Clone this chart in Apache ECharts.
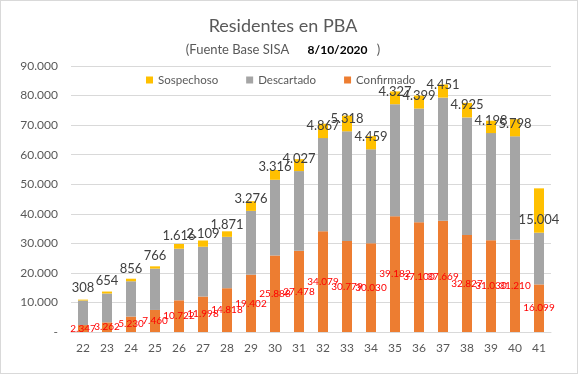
<!DOCTYPE html>
<html>
<head>
<meta charset="utf-8">
<script src="https://cdn.jsdelivr.net/npm/echarts@6/dist/echarts.min.js"></script>
<style>
html,body{margin:0;padding:0;background:#fff;}
#c{width:576px;height:372px;border:1px solid #d9d9d9;}
</style>
</head>
<body>
<div id="c"></div>
<script>
var categories = ['22','23','24','25','26','27','28','29','30','31','32','33','34','35','36','37','38','39','40','41'];
var confirmado = [2347,3262,5230,7460,10722,11998,14818,19402,25888,27478,34079,30779,30030,39182,37100,37669,32827,31030,31210,16099];
var descartado = [8300,9770,11940,13990,17460,16850,17380,21580,25610,26970,31520,37120,31770,37890,38500,41630,39770,36270,34990,17500];
var sospechoso = [308,654,856,766,1616,2109,1871,3276,3316,4027,4867,5318,4459,4327,4399,4451,4925,4198,5798,15004];
var seriesNames = ['Sospechoso','Descartado','Confirmado'];

function fmt(v){
  if (v === 0) return '-';
  return String(Math.round(v)).replace(/\B(?=(\d{3})+(?!\d))/g, '.');
}
var FONT = 'Lato, "Noto Sans", sans-serif';
var chart = echarts.init(document.getElementById('c'));
chart.setOption({
  animation:false,
  textStyle:{fontFamily:FONT},
  title:[
    {text:'Residentes en PBA', left:277, top:11, textAlign:'center',
     textStyle:{fontFamily:FONT, fontSize:18, fontWeight:'normal', color:'#595959'}},
    {text:'{a|(Fuente Base SISA}    {b|8/10/2020}  {a|)}', left:277, top:35, textAlign:'center',
     textStyle:{fontWeight:'normal', rich:{
       a:{fontFamily:FONT, fontSize:13, fontWeight:'normal', color:'#595959'},
       b:{fontFamily:FONT, fontSize:12, fontWeight:'bold', color:'#000'}
     }}}
  ],
  legend:{
    data:seriesNames, left:145, top:73, padding:0, icon:'rect', itemWidth:7, itemHeight:7, itemGap:28,
    textStyle:{fontFamily:FONT, fontSize:11.5, color:'#595959'}
  },
  grid:{left:70, right:26, top:65, bottom:41, containLabel:false},
  xAxis:{
    type:'category', data:categories,
    axisLine:{lineStyle:{color:'#d9d9d9'}},
    axisTick:{show:false},
    axisLabel:{color:'#595959', fontSize:12, margin:10, fontFamily:FONT}
  },
  yAxis:{
    type:'value', min:0, max:90000, interval:10000,
    axisLine:{show:false}, axisTick:{show:false},
    splitLine:{lineStyle:{color:'#d9d9d9'}},
    axisLabel:{color:'#595959', fontSize:12, margin:13, fontFamily:FONT, formatter:fmt}
  },
  series:[
    {name:'Confirmado', type:'bar', stack:'t', data:confirmado, barWidth:10,
     itemStyle:{color:'#ED7D31'},
     label:{show:true, position:'inside', color:'#FF0000', fontSize:10, fontFamily:FONT,
            formatter:function(p){return fmt(p.value);}}},
    {name:'Descartado', type:'bar', stack:'t', data:descartado, barWidth:10,
     itemStyle:{color:'#A5A5A5'}},
    {name:'Sospechoso', type:'bar', stack:'t', data:sospechoso, barWidth:10,
     itemStyle:{color:'#FFC000'},
     label:{show:true, position:'insideBottom', distance:5, color:'#404040', fontSize:13, lineHeight:15,
            fontFamily:FONT, formatter:function(p){return fmt(p.value);}}}
  ]
});
</script>
</body>
</html>
